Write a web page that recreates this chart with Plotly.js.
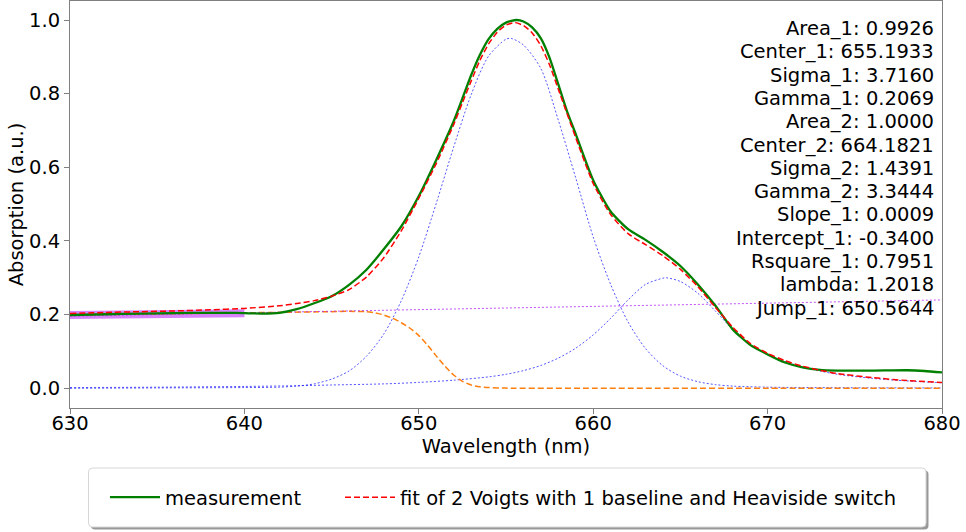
<!DOCTYPE html>
<html>
<head>
<meta charset="utf-8">
<script src="https://cdn.plot.ly/plotly-3.0.1.min.js"></script>
<style>html,body{margin:0;padding:0;background:#fff;}#chart{width:966px;height:532px;}</style>
</head>
<body>
<div id="chart"></div>
<script>
// ---- measurement (green) ----
const wlMeas = [630,632,634,636,638,639,640,641,642,643,644,645,646,647,648,649,650,651,652,652.5,653,653.5,654,654.5,655,655.6,656,656.5,657,657.5,658,658.5,659,660,661,662,663,664,665,666,667,668,669,670,671,672,673,674,676,678,679,680];
const absMeas = [0.199,0.201,0.203,0.204,0.205,0.205,0.204,0.203,0.205,0.215,0.231,0.250,0.281,0.322,0.378,0.440,0.522,0.620,0.725,0.787,0.850,0.905,0.948,0.976,0.993,1.000,0.996,0.980,0.950,0.897,0.825,0.752,0.690,0.565,0.480,0.432,0.403,0.370,0.332,0.282,0.225,0.160,0.118,0.092,0.070,0.057,0.050,0.048,0.048,0.049,0.047,0.043];

// ---- total fit (red dashed) ----
const wlFit = [630,632,634,636,638,640,642,643,644,645,646,647,648,649,650,651,652,652.5,653,653.5,654,654.5,655,655.5,656,656.5,657,657.5,658,659,660,661,662,663,664,665,666,667,668,669,670,671,672,673,674,676,678,680];
const absFit = [0.203,0.206,0.208,0.210,0.213,0.217,0.224,0.230,0.238,0.250,0.268,0.302,0.355,0.428,0.516,0.610,0.716,0.775,0.834,0.890,0.935,0.967,0.986,0.993,0.985,0.965,0.930,0.878,0.812,0.680,0.556,0.472,0.420,0.390,0.360,0.323,0.276,0.220,0.166,0.122,0.095,0.075,0.060,0.049,0.040,0.029,0.021,0.016];

// ---- Voigt 1 (blue dotted) ----
const wlVoigt1 = [630,635,640,642,643,644,645,646,647,648,649,650,651,652,653,654,655,655.3,656,657,658,659,660,661,662,663,664,665,666,667,668,670,675,680];
const absVoigt1 = [0.000,0.001,0.002,0.003,0.006,0.012,0.025,0.047,0.087,0.148,0.238,0.357,0.502,0.655,0.797,0.902,0.948,0.950,0.932,0.868,0.728,0.571,0.411,0.282,0.180,0.108,0.061,0.033,0.018,0.010,0.006,0.003,0.0015,0.001];

// ---- Voigt 2 (blue dotted) ----
const wlVoigt2 = [630,635,640,643,645,648,650,652,654,655,656,657,658,659,660,661,662,663,664,664.2,665,666,667,668,669,670,671,672,673,674,676,678,680];
const absVoigt2 = [0.002,0.003,0.005,0.007,0.009,0.012,0.016,0.022,0.031,0.038,0.048,0.062,0.082,0.109,0.145,0.190,0.240,0.282,0.299,0.300,0.290,0.258,0.210,0.160,0.118,0.092,0.073,0.058,0.047,0.038,0.027,0.020,0.015];

// ---- baseline switched by Heaviside (orange dashed) ----
const wlStep = [630,635,640,645,646,647,647.5,648,648.5,649,649.5,650,650.5,651,651.5,652,652.5,653,653.5,654,655,660,670,680];
const absStep = [0.199,0.202,0.205,0.208,0.209,0.208,0.205,0.199,0.190,0.178,0.163,0.143,0.117,0.088,0.060,0.036,0.019,0.009,0.004,0.002,0.0005,0,0,0];

// ---- linear baseline (violet dotted) ----
const wlBase = [630,680];
const absBase = [0.196,0.240];

// ---- baseline region (thick violet) ----
const wlRegion = [630,632,634,636,638,640];
const absRegion = [0.199,0.201,0.203,0.204,0.205,0.204];

// ---- tick labels, axis titles & fit parameters ----
const xTicks = [630,640,650,660,670,680];
const yTicks = [0.0,0.2,0.4,0.6,0.8,1.0];
const xTitle = 'Wavelength (nm)';
const yTitle = 'Absorption (a.u.)';
const fitParams = ["Area_1: 0.9926","Center_1: 655.1933","Sigma_1: 3.7160","Gamma_1: 0.2069","Area_2: 1.0000","Center_2: 664.1821","Sigma_2: 1.4391","Gamma_2: 3.3444","Slope_1: 0.0009","Intercept_1: -0.3400","Rsquare_1: 0.7951","lambda: 1.2018","Jump_1: 650.5644"];
const legendNames = ["measurement","fit of 2 Voigts with 1 baseline and Heaviside switch"];

const FONT = "DejaVu Sans, Liberation Sans, sans-serif";
const W = 966, H = 532, ML = 70, MR = 24, MT = 1, MB = 124;
const PW = W - ML - MR, PH = H - MT - MB;
const fx = px => (px - ML) / PW;
const fy = py => (H - MB - py) / PH;

const traces = [
  {x: wlRegion, y: absRegion, mode: 'lines', line: {color: 'rgba(204,90,250,0.75)', width: 8}, showlegend: false},
  {x: wlVoigt1, y: absVoigt1, mode: 'lines', line: {color: 'rgba(30,30,255,0.75)', width: 1, dash: '2px,2px', shape: 'spline', smoothing: 0.8}, showlegend: false},
  {x: wlVoigt2, y: absVoigt2, mode: 'lines', line: {color: 'rgba(30,30,255,0.75)', width: 1, dash: '2px,2px', shape: 'spline', smoothing: 0.8}, showlegend: false},
  {x: wlStep, y: absStep, mode: 'lines', line: {color: '#ff7f0e', width: 1.5, dash: '6px,3px', shape: 'spline', smoothing: 0.6}, showlegend: false},
  {x: wlBase, y: absBase, mode: 'lines', line: {color: 'rgba(180,40,240,0.8)', width: 1, dash: '2px,2px'}, showlegend: false},
  {x: wlMeas, y: absMeas, name: legendNames[0], legend: 'legend', mode: 'lines', line: {color: '#008000', width: 2.3, shape: 'spline', smoothing: 0.6}},
  {x: wlFit, y: absFit, name: legendNames[1], legend: 'legend2', mode: 'lines', line: {color: '#ff0000', width: 1.5, dash: '6px,3px', shape: 'spline', smoothing: 0.6}}
];

const annotations = fitParams.map((t, i) => ({
  text: t, xref: 'paper', yref: 'paper', x: fx(936), y: fy(28.5 + 23.3 * i),
  xanchor: 'right', yanchor: 'middle', showarrow: false,
  font: {family: FONT, size: 19.5, color: '#000'}
}));

const r = 4, bx0 = 88.5, bx1 = 926, by0 = 468, by1 = 527;
function roundRect(x0, y0, x1, y1) {
  const X = v => fx(v), Y = v => fy(v);
  return `M${X(x0 + r)},${Y(y0)} L${X(x1 - r)},${Y(y0)} Q${X(x1)},${Y(y0)} ${X(x1)},${Y(y0 + r)} ` +
         `L${X(x1)},${Y(y1 - r)} Q${X(x1)},${Y(y1)} ${X(x1 - r)},${Y(y1)} L${X(x0 + r)},${Y(y1)} ` +
         `Q${X(x0)},${Y(y1)} ${X(x0)},${Y(y1 - r)} L${X(x0)},${Y(y0 + r)} Q${X(x0)},${Y(y0)} ${X(x0 + r)},${Y(y0)} Z`;
}
const shapes = [
  {type: 'path', xref: 'paper', yref: 'paper', path: roundRect(bx0 + 2.5, by0 + 2.5, bx1 + 2.5, by1 + 2.5), fillcolor: 'rgba(0,0,0,0.4)', line: {width: 0}, layer: 'above'},
  {type: 'path', xref: 'paper', yref: 'paper', path: roundRect(bx0, by0, bx1, by1), fillcolor: '#ffffff', line: {color: '#d6d6d6', width: 1}, layer: 'above'}
];

const axisCommon = {
  showline: true, linecolor: '#808080', linewidth: 1, mirror: true,
  ticks: 'outside', ticklen: 5, tickwidth: 1, tickcolor: '#808080',
  showgrid: false, zeroline: false,
  tickfont: {family: FONT, size: 19.5, color: '#000'}
};

const legendCommon = {
  orientation: 'h', xanchor: 'left', y: fy(497.5), yanchor: 'middle',
  bgcolor: 'rgba(0,0,0,0)', borderwidth: 0,
  font: {family: FONT, size: 19.5, color: '#000'},
  itemwidth: 50
};

const layout = {
  width: W, height: H,
  margin: {l: ML, r: MR, t: MT, b: MB, pad: 0},
  paper_bgcolor: '#fff', plot_bgcolor: '#fff',
  font: {family: FONT, size: 19.5, color: '#000'},
  xaxis: Object.assign({}, axisCommon, {
    range: [630, 680], tickvals: xTicks, ticktext: xTicks.map(String),
    ticklabelstandoff: -7,
    title: {text: xTitle, font: {family: FONT, size: 19.5, color: '#000'}, standoff: 0}
  }),
  yaxis: Object.assign({}, axisCommon, {
    range: [-0.0535, 1.0516], tickvals: yTicks, ticktext: yTicks.map(v => v.toFixed(1)),
    title: {text: yTitle, font: {family: FONT, size: 19.5, color: '#000'}, standoff: 0}
  }),
  showlegend: true,
  legend: Object.assign({}, legendCommon, {x: fx(105)}),
  legend2: Object.assign({}, legendCommon, {x: fx(340)}),
  shapes: shapes,
  annotations: annotations
};

Plotly.newPlot('chart', traces, layout, {displayModeBar: false, staticPlot: true});
</script>
</body>
</html>
